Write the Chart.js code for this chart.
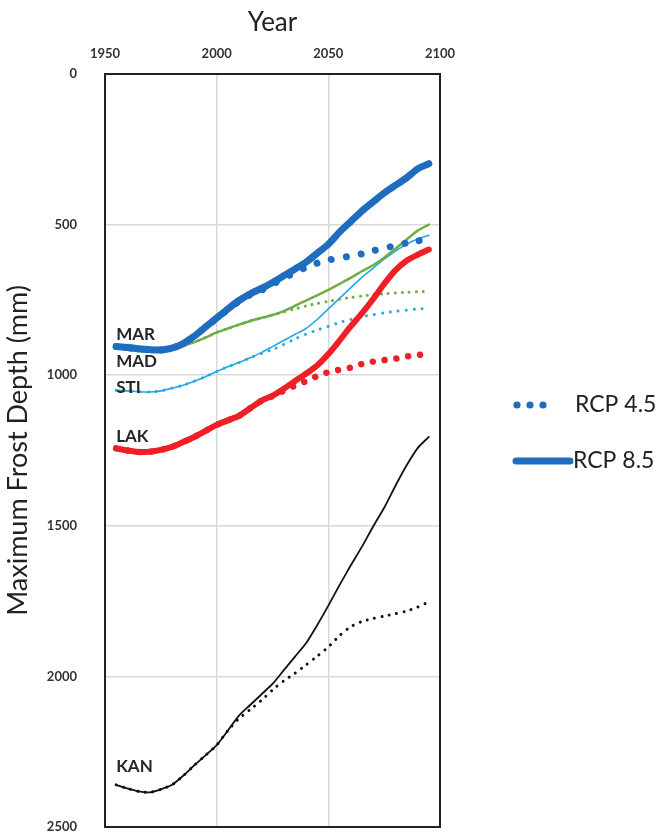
<!DOCTYPE html>
<html>
<head>
<meta charset="utf-8">
<title>Maximum Frost Depth</title>
<script src="https://cdn.jsdelivr.net/npm/chart.js@4.4.0/dist/chart.umd.min.js"></script>
<style>
  html, body { margin: 0; padding: 0; background: #fff; }
  #wrap { width: 665px; height: 838px; }
</style>
</head>
<body>
<div id="wrap"><canvas id="frostChart" width="665" height="838"></canvas></div>
<script>
// five-year steps, 1955 - 2095
const years = [1955, 1960, 1965, 1970, 1975, 1980, 1985, 1990, 1995, 2000,
               2005, 2010, 2015, 2020, 2025, 2030, 2035, 2040, 2045, 2050,
               2055, 2060, 2065, 2070, 2075, 2080, 2085, 2090, 2095];

// maximum frost depth (mm), RCP 8.5 / RCP 4.5 per station
const marRcp85 = [905, 908, 912, 915, 916, 910, 895, 870, 840, 810, 780, 752, 730, 712, 692, 670, 648, 625, 595, 565, 525, 490, 455, 425, 395, 370, 345, 315, 298];
const marRcp45 = [905, 908, 912, 915, 916, 910, 895, 870, 840, 812, 782, 755, 733, 718, 698, 678, 660, 642, 628, 618, 610, 605, 597, 587, 578, 570, 561, 554, 548];
const madRcp85 = [910, 915, 920, 922, 920, 912, 902, 890, 875, 858, 845, 832, 820, 810, 800, 787, 770, 752, 735, 717, 697, 677, 655, 635, 610, 580, 550, 520, 500];
const madRcp45 = [910, 915, 920, 922, 920, 912, 902, 890, 875, 858, 845, 832, 820, 810, 800, 790, 780, 770, 762, 755, 748, 742, 737, 733, 730, 727, 725, 723, 722];
const stiRcp85 = [1050, 1052, 1055, 1056, 1052, 1043, 1033, 1020, 1005, 988, 972, 958, 942, 925, 905, 885, 865, 845, 815, 780, 745, 710, 675, 645, 615, 588, 565, 548, 535];
const stiRcp45 = [1050, 1052, 1055, 1056, 1052, 1043, 1033, 1020, 1005, 988, 972, 958, 942, 928, 915, 898, 880, 864, 850, 838, 825, 815, 806, 799, 793, 788, 784, 780, 778];
const lakRcp85 = [1243, 1250, 1255, 1254, 1248, 1238, 1222, 1205, 1185, 1165, 1150, 1135, 1110, 1085, 1068, 1045, 1020, 995, 968, 930, 885, 838, 795, 748, 697, 652, 620, 600, 583];
const lakRcp45 = [1243, 1250, 1255, 1254, 1248, 1238, 1222, 1205, 1185, 1165, 1150, 1135, 1110, 1085, 1070, 1052, 1035, 1020, 1003, 990, 982, 975, 963, 955, 950, 945, 938, 933, 930];
const kanRcp85 = [2360, 2372, 2382, 2385, 2375, 2360, 2330, 2295, 2262, 2228, 2180, 2130, 2095, 2060, 2025, 1980, 1935, 1890, 1830, 1765, 1697, 1632, 1570, 1503, 1440, 1368, 1300, 1242, 1205];
const kanRcp45 = [2360, 2372, 2382, 2385, 2375, 2360, 2330, 2295, 2262, 2228, 2180, 2140, 2110, 2080, 2045, 2015, 1990, 1962, 1933, 1902, 1865, 1835, 1818, 1808, 1800, 1792, 1783, 1770, 1752];

// station name tags, anchored in data units (year, depth)
const stationNames = ['MAR', 'MAD', 'STI', 'LAK', 'KAN'];
const stationTagYear = [1955, 1955, 1955, 1955, 1955];
const stationTagDepth = [866, 956, 1042, 1205, 2300];

const scenarioNames = ['RCP 4.5', 'RCP 8.5'];

const yearTicks = [1950, 2000, 2050, 2100];
const depthTicks = [0, 500, 1000, 1500, 2000, 2500];

const FONT = "Lato, 'Open Sans', 'DejaVu Sans', sans-serif";
const BLUE = '#1f6dbf';
const RED = '#ee1f26';
const GREEN = '#6fad45';
const SKY = '#22a8e4';
const BLACK = '#111111';

function pts(vals) {
    return years.map((yr, i) => ({ x: yr, y: vals[i] }));
}

function solid(label, vals, color, width) {
    return {
        label: label,
        data: pts(vals),
        borderColor: color,
        borderWidth: width,
        borderCapStyle: 'round',
        borderJoinStyle: 'round',
        pointRadius: 0,
        tension: 0.25
    };
}

function dotted(label, vals, color, width, gap) {
    return {
        label: label,
        data: pts(vals),
        borderColor: color,
        borderWidth: width,
        borderDash: [0.01, gap],
        borderCapStyle: 'round',
        pointRadius: 0,
        tension: 0.25
    };
}

// plot frame on all four sides
const frameBox = {
    id: 'frameBox',
    afterDatasetsDraw(chart) {
        const a = chart.chartArea;
        const ctx = chart.ctx;
        ctx.save();
        ctx.strokeStyle = '#222';
        ctx.lineWidth = 2;
        ctx.strokeRect(a.left, a.top, a.right - a.left, a.bottom - a.top);
        ctx.restore();
    }
};

const stationTags = {
    id: 'stationTags',
    afterDatasetsDraw(chart) {
        const ctx = chart.ctx;
        const xs = chart.scales.x;
        const ys = chart.scales.y;
        ctx.save();
        ctx.font = 'bold 17px ' + FONT;
        ctx.fillStyle = '#262626';
        ctx.textAlign = 'left';
        ctx.textBaseline = 'middle';
        stationNames.forEach((name, i) => {
            ctx.fillText(name, xs.getPixelForValue(stationTagYear[i]), ys.getPixelForValue(stationTagDepth[i]));
        });
        ctx.restore();
    }
};

// legend to the right of the plot
const sideLegend = {
    id: 'sideLegend',
    afterDraw(chart) {
        const ctx = chart.ctx;
        const left = chart.chartArea.right + 77;
        const row1 = 405;
        const row2 = 461;
        ctx.save();

        ctx.fillStyle = BLUE;
        for (let i = 0; i < 3; i++) {
            ctx.beginPath();
            ctx.arc(left + i * 13, row1, 3.6, 0, Math.PI * 2);
            ctx.fill();
        }

        ctx.strokeStyle = BLUE;
        ctx.lineWidth = 7;
        ctx.lineCap = 'round';
        ctx.beginPath();
        ctx.moveTo(left - 1, row2);
        ctx.lineTo(left + 53, row2);
        ctx.stroke();

        ctx.fillStyle = '#222';
        ctx.font = '23px ' + FONT;
        ctx.textAlign = 'left';
        ctx.textBaseline = 'middle';
        ctx.fillText(scenarioNames[0], left + 58, row1);
        ctx.fillText(scenarioNames[1], left + 56, row2);
        ctx.restore();
    }
};

// first dataset is painted last (on top)
const datasets = [
    dotted(scenarioNames[0] + ' MAR', marRcp45, BLUE, 7, 15),
    solid(scenarioNames[1] + ' MAR', marRcp85, BLUE, 7),
    dotted(scenarioNames[0] + ' LAK', lakRcp45, RED, 6.5, 12),
    solid(scenarioNames[1] + ' LAK', lakRcp85, RED, 6),
    dotted(scenarioNames[0] + ' MAD', madRcp45, GREEN, 3, 7),
    solid(scenarioNames[1] + ' MAD', madRcp85, GREEN, 2.5),
    dotted(scenarioNames[0] + ' STI', stiRcp45, SKY, 3, 8),
    solid(scenarioNames[1] + ' STI', stiRcp85, SKY, 1.6),
    dotted(scenarioNames[0] + ' KAN', kanRcp45, BLACK, 3, 7.5),
    solid(scenarioNames[1] + ' KAN', kanRcp85, BLACK, 1.8)
];

const tickFont = { family: FONT, size: 13, weight: 'bold' };

new Chart(document.getElementById('frostChart'), {
    type: 'line',
    data: { datasets: datasets },
    plugins: [frameBox, stationTags, sideLegend],
    options: {
        responsive: false,
        animation: false,
        layout: { padding: { left: 0, top: 0, right: 225, bottom: 11 } },
        plugins: {
            legend: { display: false },
            tooltip: { enabled: false }
        },
        scales: {
            x: {
                type: 'linear',
                position: 'top',
                min: yearTicks[0],
                max: yearTicks[yearTicks.length - 1],
                afterBuildTicks(scale) {
                    scale.ticks = yearTicks.map(v => ({ value: v }));
                },
                afterFit(scale) { scale.height = 74; },
                grid: { color: '#d9d9d9', lineWidth: 1.5, drawTicks: false },
                border: { display: false },
                ticks: {
                    padding: 12,
                    color: '#333',
                    font: tickFont,
                    callback: v => String(v)
                },
                title: {
                    display: true,
                    text: 'Year',
                    color: '#222',
                    padding: { top: 7, bottom: 0 },
                    font: { family: FONT, size: 26 }
                }
            },
            y: {
                type: 'linear',
                reverse: true,
                min: depthTicks[0],
                max: depthTicks[depthTicks.length - 1],
                afterBuildTicks(scale) {
                    scale.ticks = depthTicks.map(v => ({ value: v }));
                },
                afterFit(scale) { scale.width = 105; },
                // invisible tick marks keep the labels clear of the frame
                grid: { color: '#d9d9d9', lineWidth: 1.5, drawTicks: true, tickLength: 28, tickColor: 'rgba(0,0,0,0)' },
                border: { display: false },
                ticks: {
                    padding: 0,
                    color: '#333',
                    font: tickFont,
                    callback: v => String(v)
                },
                title: {
                    display: true,
                    text: 'Maximum Frost Depth (mm)',
                    color: '#222',
                    padding: { top: 2, bottom: 0 },
                    font: { family: FONT, size: 27 }
                }
            }
        }
    }
});
</script>
</body>
</html>
